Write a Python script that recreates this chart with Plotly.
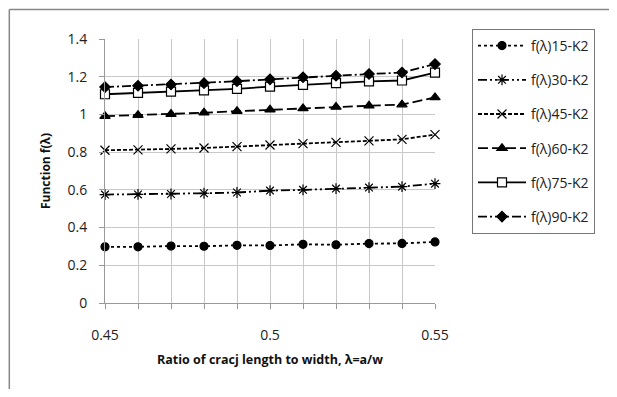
import plotly.graph_objects as go

lam = [0.45, 0.46, 0.47, 0.48, 0.49, 0.50, 0.51, 0.52, 0.53, 0.54, 0.55]

f15 = [0.298, 0.298, 0.302, 0.301, 0.306, 0.305, 0.311, 0.309, 0.315, 0.316, 0.324]
f30 = [0.575, 0.576, 0.578, 0.582, 0.586, 0.596, 0.600, 0.607, 0.612, 0.617, 0.633]
f45 = [0.810, 0.812, 0.817, 0.822, 0.829, 0.838, 0.845, 0.852, 0.860, 0.868, 0.893]
f60 = [0.991, 0.996, 1.002, 1.009, 1.017, 1.025, 1.032, 1.040, 1.046, 1.052, 1.090]
f75 = [1.107, 1.114, 1.121, 1.128, 1.136, 1.147, 1.157, 1.166, 1.175, 1.180, 1.222]
f90 = [1.145, 1.152, 1.159, 1.166, 1.176, 1.186, 1.197, 1.205, 1.214, 1.222, 1.267]

names = ["f(λ)15-K2", "f(λ)30-K2", "f(λ)45-K2", "f(λ)60-K2", "f(λ)75-K2", "f(λ)90-K2"]
series = [f15, f30, f45, f60, f75, f90]

FONT = "Open Sans, Noto Sans, sans-serif"
OFF = 8  # page body margin on every side
W, H = 617 - 2 * OFF, 397 - 2 * OFF

styles = [
    dict(dash="dot", symbol="circle", size=8, fill="black"),
    dict(dash="9px,3px,2px,3px,2px,3px", symbol="asterisk-open", size=9, fill="black"),
    dict(dash="4px,2px", symbol="x-thin-open", size=9, fill="black"),
    dict(dash="10px,4px", symbol="triangle-up", size=9, fill="black"),
    dict(dash="solid", symbol="square", size=9, fill="white"),
    dict(dash="9px,3px,2px,3px", symbol="diamond", size=8, fill="black"),
]

fig = go.Figure()
for i, (nm, ys, st) in enumerate(zip(names, series, styles)):
    fig.add_trace(go.Scatter(
        x=lam, y=ys, name=nm, mode="lines+markers",
        legendgroup=f"g{i}",
        line=dict(color="black", width=1.8, dash=st["dash"]),
        marker=dict(symbol=st["symbol"], size=st["size"], color=st["fill"],
                    line=dict(color="black", width=1.2)),
        cliponaxis=False,
    ))

fig.update_layout(
    width=W, height=H,
    margin=dict(l=105 - OFF, r=W - (105 - OFF) - 330, t=39 - OFF, b=H - (39 - OFF) - 264),
    paper_bgcolor="white", plot_bgcolor="white",
    font=dict(family=FONT, color="#222", size=14),
    showlegend=True,
    legend=dict(
        xref="container", yref="container",
        x=(472 - OFF) / W, y=1 - (29 - OFF) / H, xanchor="left", yanchor="top",
        bordercolor="#777", borderwidth=1, bgcolor="white",
        font=dict(size=14, family=FONT), tracegroupgap=13,
        traceorder="grouped", maxheight=400, itemwidth=48,
    ),
    # chart-area border: only the left and top edges fall inside the page
    shapes=[
        dict(type="line", xref="paper", yref="paper",
             x0=-0.29, x1=-0.29, y0=-1, y1=1.112,
             line=dict(color="#888", width=1.5), layer="below"),
        dict(type="line", xref="paper", yref="paper",
             x0=-0.29, x1=3, y0=1.112, y1=1.112,
             line=dict(color="#888", width=1.5), layer="below"),
    ],
)

fig.update_xaxes(
    range=[0.45, 0.55], tickvals=[0.45, 0.5, 0.55], ticktext=["0.45", "0.5", "0.55"],
    showgrid=True, gridcolor="#c8c8c8", gridwidth=1,
    minor=dict(dtick=0.01, tick0=0.45, showgrid=True, gridcolor="#c8c8c8",
               ticks="outside", ticklen=5, tickcolor="#999"),
    ticks="outside", ticklen=5, tickcolor="#999",
    showline=True, linecolor="#999", linewidth=1,
    ticklabelstandoff=14, zeroline=False, automargin=False,
    title=dict(text="<b>Ratio of cracj length to width, λ=a/w</b>",
               font=dict(size=12.5, family=FONT, color="#111"), standoff=12),
)
fig.update_yaxes(
    range=[0, 1.4], tickvals=[0, 0.2, 0.4, 0.6, 0.8, 1.0, 1.2, 1.4],
    ticktext=["0", "0.2", "0.4", "0.6", "0.8", "1", "1.2", "1.4"],
    showgrid=True, gridcolor="#c8c8c8", gridwidth=1,
    ticks="outside", ticklen=5, tickcolor="#999",
    showline=True, linecolor="#999", linewidth=1,
    ticklabelstandoff=9, zeroline=False, automargin=False,
    title=dict(text="<b>Function f(λ)</b>",
               font=dict(size=12, family=FONT, color="#111"), standoff=14),
)

fig.write_html("out.html")
